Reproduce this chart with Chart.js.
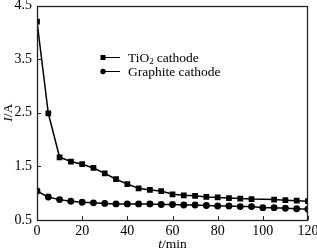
<!DOCTYPE html>
<html lang="en">
<head>
    <meta charset="UTF-8">
    <title>Current vs time</title>
    <script src="https://cdn.jsdelivr.net/npm/chart.js"></script>
    <style>
        html, body { margin: 0; padding: 0; background: #fff; }
        #wrap { width: 317px; height: 250px; }
    </style>
</head>
<body>
    <div id="wrap"><canvas id="currentChart" width="317" height="250"></canvas></div>

    <script>
        // Data (time in min, current in A)
        const tio2Times = [0, 5, 10, 15, 20, 25, 30, 35, 40, 45, 50, 55, 60, 65, 70, 75, 80, 85, 90, 95, 105, 110, 115, 120];
        const tio2Current = [4.2, 2.49, 1.67, 1.59, 1.54, 1.47, 1.37, 1.26, 1.17, 1.09, 1.06, 1.04, 0.98, 0.96, 0.95, 0.93, 0.92, 0.91, 0.90, 0.89, 0.88, 0.87, 0.86, 0.85];
        const graphiteTimes = [0, 5, 10, 15, 20, 25, 30, 35, 40, 45, 50, 55, 60, 65, 70, 75, 80, 85, 90, 95, 100, 105, 110, 115, 120];
        const graphiteCurrent = [1.04, 0.93, 0.88, 0.85, 0.83, 0.82, 0.81, 0.80, 0.80, 0.80, 0.80, 0.79, 0.79, 0.78, 0.78, 0.77, 0.76, 0.76, 0.75, 0.75, 0.73, 0.73, 0.72, 0.71, 0.70];
        const xTicks = [0, 20, 40, 60, 80, 100, 120];
        const yTicks = [0.5, 1.5, 2.5, 3.5, 4.5];

        const serif = '"Liberation Serif", "Times New Roman", serif';

        function toPoints(xs, ys) {
            return xs.map((x, i) => ({ x: x, y: ys[i] }));
        }

        // Frame, inward ticks, axis titles and the legend
        const decorPlugin = {
            id: 'decor',
            afterDraw(chart) {
                const ctx = chart.ctx;
                const area = chart.chartArea;
                const xs = chart.scales.x;
                const ys = chart.scales.y;
                ctx.save();
                ctx.strokeStyle = '#222';
                ctx.lineWidth = 1.3;
                ctx.strokeRect(Math.round(area.left) + 0.5, Math.round(area.top) + 0.5,
                    Math.round(area.right - area.left) - 1, Math.round(area.bottom - area.top) - 1);

                ctx.lineWidth = 1;
                ctx.beginPath();
                xTicks.forEach(v => {
                    const px = Math.round(xs.getPixelForValue(v)) + 0.5;
                    ctx.moveTo(px, area.bottom);
                    ctx.lineTo(px, area.bottom - 4);
                });
                yTicks.forEach(v => {
                    const py = Math.round(ys.getPixelForValue(v)) + 0.5;
                    ctx.moveTo(area.left, py);
                    ctx.lineTo(area.left + 4, py);
                });
                ctx.stroke();

                // axis titles
                ctx.fillStyle = '#000';
                ctx.textBaseline = 'alphabetic';
                ctx.font = 'italic 13.5px ' + serif;
                const tW = ctx.measureText('t').width;
                ctx.font = '13.5px ' + serif;
                const restW = ctx.measureText('/min').width;
                let sx = (area.left + area.right) / 2 - (tW + restW) / 2;
                ctx.font = 'italic 13.5px ' + serif;
                ctx.fillText('t', sx, 248);
                ctx.font = '13.5px ' + serif;
                ctx.fillText('/min', sx + tW, 248);

                ctx.save();
                ctx.translate(12, (area.top + area.bottom) / 2);
                ctx.rotate(-Math.PI / 2);
                ctx.font = 'italic 13.5px ' + serif;
                const iW = ctx.measureText('I').width;
                ctx.font = '13.5px ' + serif;
                const aW = ctx.measureText('/A').width;
                const ox = -(iW + aW) / 2;
                ctx.font = 'italic 13.5px ' + serif;
                ctx.fillText('I', ox, 0);
                ctx.font = '13.5px ' + serif;
                ctx.fillText('/A', ox + iW, 0);
                ctx.restore();

                // legend
                const lx = 103, ly1 = 57, ly2 = 71;
                ctx.strokeStyle = '#000';
                ctx.lineWidth = 1.2;
                ctx.beginPath();
                ctx.moveTo(lx, ly1 + 0.5); ctx.lineTo(lx + 17, ly1 + 0.5);
                ctx.moveTo(lx, ly2 + 0.5); ctx.lineTo(lx + 17, ly2 + 0.5);
                ctx.stroke();
                ctx.fillRect(lx - 2.5, ly1 - 2, 5, 5);
                ctx.beginPath();
                ctx.arc(lx, ly2 + 0.5, 2.7, 0, Math.PI * 2);
                ctx.fill();

                ctx.textBaseline = 'middle';
                ctx.font = '13.5px ' + serif;
                let tx = lx + 25;
                ctx.fillText('TiO', tx, ly1 + 1);
                tx += ctx.measureText('TiO').width;
                ctx.font = '9px ' + serif;
                ctx.fillText('2', tx, ly1 + 5);
                tx += ctx.measureText('2').width + 3;
                ctx.font = '13.5px ' + serif;
                ctx.fillText('cathode', tx, ly1 + 1);
                ctx.fillText('Graphite cathode', lx + 25, ly2 + 1);
                ctx.restore();
            }
        };

        const ctx = document.getElementById('currentChart').getContext('2d');
        const currentChart = new Chart(ctx, {
            type: 'line',
            data: {
                datasets: [{
                    label: 'TiO2 cathode',
                    data: toPoints(tio2Times, tio2Current),
                    borderColor: '#000',
                    backgroundColor: '#000',
                    borderWidth: 1.5,
                    pointStyle: 'rect',
                    pointRadius: 3,
                    tension: 0,
                    fill: false
                }, {
                    label: 'Graphite cathode',
                    data: toPoints(graphiteTimes, graphiteCurrent),
                    borderColor: '#000',
                    backgroundColor: '#000',
                    borderWidth: 1.5,
                    pointStyle: 'circle',
                    pointRadius: 2.7,
                    tension: 0,
                    fill: false
                }]
            },
            options: {
                responsive: false,
                animation: false,
                layout: { padding: { top: 4, right: 9, left: 0, bottom: 0 } },
                plugins: {
                    legend: { display: false },
                    tooltip: { enabled: false }
                },
                scales: {
                    x: {
                        type: 'linear',
                        min: 0,
                        max: 120,
                        afterBuildTicks(scale) {
                            scale.ticks = xTicks.map(v => ({ value: v }));
                        },
                        afterFit(scale) {
                            scale.height = 30;
                            scale.paddingLeft = 0;
                            scale.paddingRight = 0;
                        },
                        grid: { display: false, drawTicks: false },
                        border: { display: false },
                        ticks: {
                            color: '#000',
                            padding: 4,
                            maxRotation: 0,
                            font: { family: serif, size: 14, lineHeight: 1.1 }
                        }
                    },
                    y: {
                        min: 0.5,
                        max: 4.5,
                        afterBuildTicks(scale) {
                            scale.ticks = yTicks.map(v => ({ value: v }));
                        },
                        afterFit(scale) {
                            scale.width = 37;
                            scale.paddingTop = 0;
                            scale.paddingBottom = 0;
                        },
                        grid: { display: false, drawTicks: false },
                        border: { display: false },
                        ticks: {
                            color: '#000',
                            padding: 5,
                            font: { family: serif, size: 14 },
                            callback: v => v.toFixed(1)
                        }
                    }
                }
            },
            plugins: [decorPlugin]
        });
    </script>
</body>
</html>
